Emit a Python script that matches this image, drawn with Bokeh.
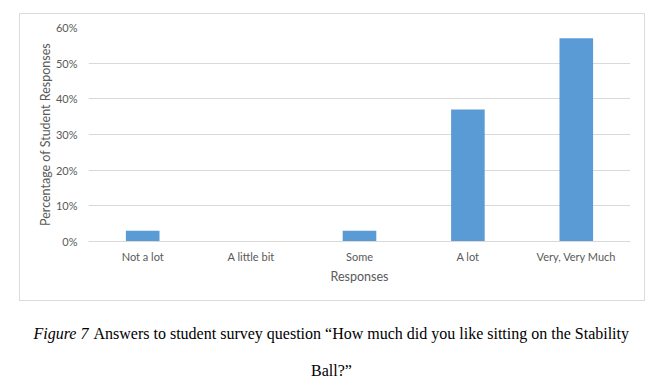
from bokeh.plotting import figure
from bokeh.layouts import column
from bokeh.models import FactorRange, Range1d, NumeralTickFormatter, FixedTicker
from bokeh.core.properties import value
from bokeh.embed import file_html
from bokeh.resources import INLINE

categories = ["Not a lot", "A little bit", "Some", "A lot", "Very, Very Much"]
percentages = [0.03, 0.0, 0.03, 0.37, 0.57]
y_ticks = [0.0, 0.1, 0.2, 0.3, 0.4, 0.5, 0.6]
x_title = "Responses"
y_title = "Percentage of Student Responses"
caption_italic = "Figure 7"
caption_line1 = "Answers to student survey question \u201cHow much did you like sitting on the Stability"
caption_line2 = "Ball?\u201d"

GRAY = "#595959"
LIGHT = "#d9d9d9"
BAR = "#5b9bd5"
FONT = "Lato"
SERIF = "Liberation Serif"

# chart box: page x 20..643, y 14..299 (shadow line drawn just outside)
# data frame: page x 88..630, y 27..241
BL, BR = 68, 14
p = figure(width=624, height=286,
           x_range=FactorRange(*categories, range_padding=0),
           y_range=Range1d(0, 0.6),
           output_backend="svg", toolbar_location=None,
           min_border_left=BL, min_border_right=BR,
           min_border_top=13, min_border_bottom=59)
p.margin = (14, 16, 1, 20)
p.styles = {"box-shadow": "0 0 0 1px #dcdcdc"}
p.frame_align = False
p.outline_line_color = None
p.background_fill_color = "white"
p.border_fill_color = "white"

p.vbar(x=categories, top=percentages, width=0.31, color=BAR, line_color=None)

p.xgrid.grid_line_color = None
p.ygrid.grid_line_color = LIGHT
p.ygrid.grid_line_width = 1

ya = p.yaxis[0]
ya.ticker = FixedTicker(ticks=y_ticks)
ya.formatter = NumeralTickFormatter(format="0%")
ya.axis_line_color = None
ya.major_tick_line_color = None
ya.minor_tick_line_color = None
ya.major_label_text_color = GRAY
ya.major_label_text_font = FONT
ya.major_label_text_font_size = "11px"
ya.major_label_standoff = 5
ya.axis_label = y_title
ya.axis_label_text_font = FONT
ya.axis_label_text_font_size = "12.5px"
ya.axis_label_text_font_style = "normal"
ya.axis_label_text_color = GRAY
ya.axis_label_standoff = 0

xa = p.xaxis[0]
xa.axis_line_color = LIGHT
xa.major_tick_line_color = None
xa.minor_tick_line_color = None
xa.major_label_text_color = GRAY
xa.major_label_text_font = FONT
xa.major_label_text_font_size = "11px"
xa.major_label_standoff = 2
xa.axis_label = x_title
xa.axis_label_text_font = FONT
xa.axis_label_text_font_size = "12.5px"
xa.axis_label_text_font_style = "normal"
xa.axis_label_text_color = GRAY
xa.axis_label_standoff = 3

# caption area (page y 301..381); frame covers the whole caption canvas
c = figure(width=660, height=80, x_range=Range1d(0, 660), y_range=Range1d(80, 0),
           x_axis_type=None, y_axis_type=None, output_backend="svg",
           toolbar_location=None, min_border=0)
c.frame_align = False
c.outline_line_color = None
c.xgrid.visible = False
c.ygrid.visible = False
c.border_fill_color = None
c.background_fill_color = None

c.text(x=[33], y=[31.5], text=[caption_italic], text_font=value(SERIF), text_font_style="italic",
       text_font_size="16px", text_color="black", text_align="left", text_baseline="alphabetic")
c.text(x=[93], y=[31.5], text=[caption_line1], text_font=value(SERIF),
       text_font_size="16px", text_color="black", text_align="left", text_baseline="alphabetic")
c.text(x=[331], y=[69], text=[caption_line2], text_font=value(SERIF),
       text_font_size="16px", text_color="black", text_align="center", text_baseline="alphabetic")

layout = column(p, c, spacing=0)
open("out.html", "w").write(file_html(layout, INLINE))
